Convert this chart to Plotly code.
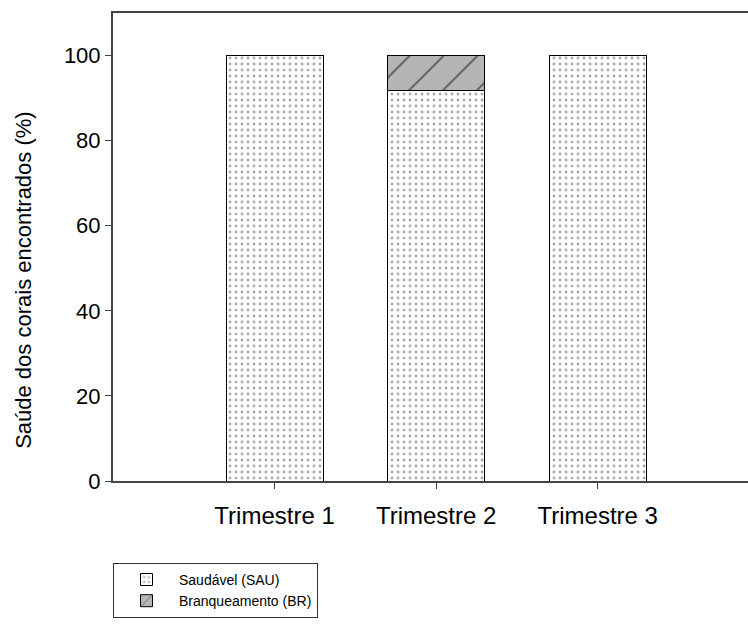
import plotly.graph_objects as go

# Coral health by quarter (% of colonies found)
categories = ["Trimestre 1", "Trimestre 2", "Trimestre 3"]
saudavel = [100, 91.7, 100]
branqueamento = [0, 8.3, 0]
y_ticks = [0, 20, 40, 60, 80, 100]

x_pos = list(range(len(categories)))
font_family = "Liberation Sans, Arial, sans-serif"

fig = go.Figure()
fig.add_trace(go.Bar(
    x=x_pos, y=saudavel, name="Saudável (SAU)", width=0.6,
    marker=dict(
        color="white",
        line=dict(color="black", width=1),
        pattern=dict(shape=".", size=6, solidity=0.18,
                     fgcolor="#555555", bgcolor="white", fillmode="overlay"),
    ),
))
fig.add_trace(go.Bar(
    x=x_pos, y=branqueamento, name="Branqueamento (BR)", width=0.6,
    marker=dict(
        color="#b5b5b5",
        line=dict(color="black", width=1),
        pattern=dict(shape="/", size=24, solidity=0.08,
                     fgcolor="#000000", bgcolor="#b5b5b5", fillmode="overlay"),
    ),
))

fig.update_layout(
    barmode="stack",
    width=748, height=629,
    margin=dict(l=113, r=0, t=13, b=148),
    paper_bgcolor="white", plot_bgcolor="white",
    font=dict(family=font_family, size=20, color="black"),
    showlegend=True,
    legend=dict(
        x=0, y=-0.175, xanchor="left", yanchor="top",
        bordercolor="#333333", borderwidth=1,
        font=dict(size=14), itemwidth=55,
        entrywidth=180, entrywidthmode="pixels",
        traceorder="normal",
    ),
    annotations=[dict(
        text="Saúde dos corais encontrados (%)",
        textangle=-90, xref="paper", yref="paper",
        x=-0.14, y=0.43, xanchor="center", yanchor="middle",
        showarrow=False, font=dict(size=22),
    )],
)
fig.update_xaxes(
    range=[-1.0, 2.93],
    tickvals=x_pos, ticktext=categories,
    showline=True, linecolor="#444444", linewidth=2, mirror=True,
    ticks="outside", ticklen=6, tickcolor="#444444",
    showgrid=False, zeroline=False,
    tickfont=dict(size=24), ticklabelstandoff=6,
)
fig.update_yaxes(
    range=[0, 110], tickvals=y_ticks,
    showline=True, linecolor="#444444", linewidth=2, mirror=False,
    ticks="outside", ticklen=6, tickcolor="#444444",
    showgrid=False, zeroline=False,
    tickfont=dict(size=22),
)

fig.write_html("out.html")
